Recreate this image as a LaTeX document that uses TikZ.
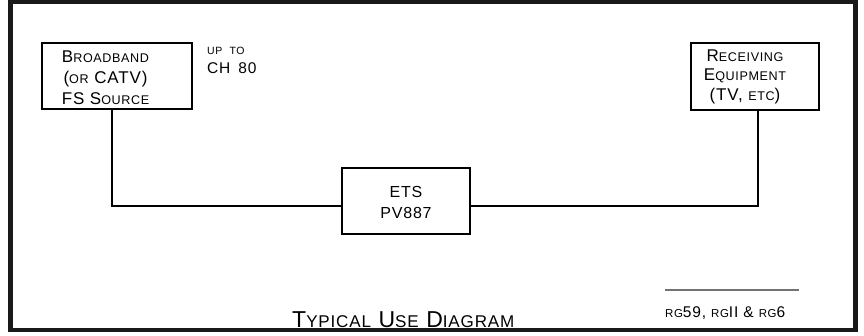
\documentclass[tikz,border=0pt]{standalone}
\usepackage{fontspec}
\setmainfont{Liberation Sans}[LetterSpace=5]
\makeatletter
\newcommand\SC[1]{{\fontsize{\fpeval{0.74*\f@size}}{0}\selectfont #1}}
\makeatother
\begin{document}
\begin{tikzpicture}[x=1pt,y=-1pt,
  box/.style={draw=black,line width=2.8pt,fill=white,inner sep=0pt},
  wire/.style={draw=black,line width=1.7pt},
  lbl/.style={inner sep=0pt,align=center,text=black}]
\useasboundingbox (0,0) rectangle (864,335);
\draw[line width=4.5pt,draw=black!90] (10.5,1.5) rectangle (855.5,330);
% boxes
\node[box,minimum width=150pt,minimum height=66pt] (src) at (117,76) {};
\node[box,minimum width=128pt,minimum height=67pt] (rcv) at (755,76.5) {};
\node[box,minimum width=128pt,minimum height=66pt] (ets) at (406,201) {};
% connectors
\draw[wire] ([xshift=-5pt]src.south) |- ([yshift=-5pt]ets.west);
\draw[wire] ([xshift=3pt]rcv.south) |- ([yshift=-5pt]ets.east);
% labels
\node[lbl,anchor=base,font=\fontsize{17}{21}\selectfont] (srct) at (105.5,104)
  {B\SC{ROADBAND}\\(\SC{OR} CATV)\\FS S\SC{OURCE}};
\node[lbl,anchor=base,font=\fontsize{17}{19.5}\selectfont] (rcvt) at (745,100)
  {R\SC{ECEIVING}\\E\SC{QUIPMENT}\\(TV, \SC{ETC})};
\node[lbl,anchor=base,font=\fontsize{16}{21}\selectfont] (etst) at (406,218)
  {ETS\\PV887};
\node[lbl,anchor=base west,font=\fontsize{10.5}{12}\selectfont] (upto) at (207,54.3)
  {UP\hspace{4pt} TO};
\node[lbl,anchor=base west,font=\fontsize{15.5}{18}\selectfont] (ch) at (207,73.3)
  {CH\hspace{3pt} 80};
\node[lbl,anchor=base west,font=\fontsize{23}{26}\selectfont] (title) at (292,327)
  {T\SC{YPICAL} U\SC{SE} D\SC{IAGRAM}};
\draw[line width=1.5pt,draw=black!55] (665,290) -- (799,290);
\node[lbl,anchor=base west,font=\fontsize{15.5}{18}\selectfont] (rg) at (665,317)
  {\SC{RG}59, \SC{RG}II \& \SC{RG}6};
\end{tikzpicture}
\end{document}
